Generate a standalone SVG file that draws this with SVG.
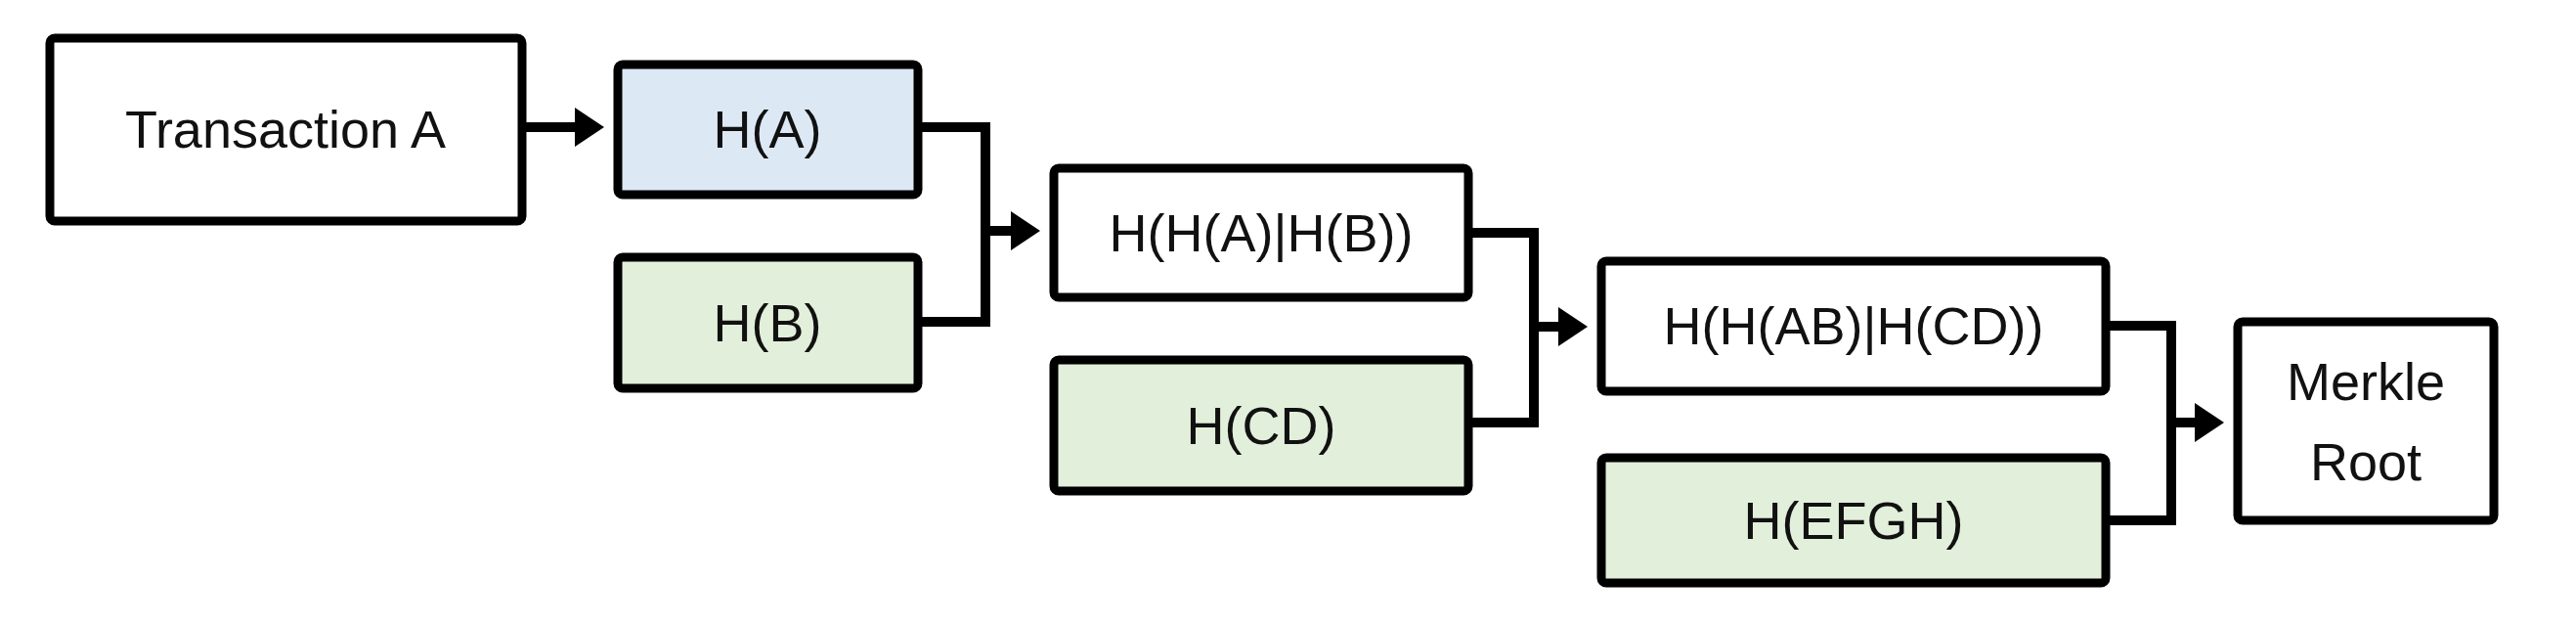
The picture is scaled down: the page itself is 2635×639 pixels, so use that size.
<svg xmlns="http://www.w3.org/2000/svg" width="2635" height="639" viewBox="0 0 2635 639">
<style>
rect{stroke:#000;stroke-width:9}
.w{fill:#fff}.b{fill:#dde8f5}.g{fill:#e2efda}
text{font-family:"Liberation Sans",Arial,sans-serif;font-size:54px;fill:#111;text-anchor:middle;dominant-baseline:central}
.c{fill:none;stroke:#000;stroke-width:10}
</style>
<defs><marker id="ar" markerWidth="4" markerHeight="4" refX="2.2" refY="2" orient="auto" markerUnits="strokeWidth"><path d="M0,0L3,2L0,4z" fill="#000"/></marker></defs>
<rect width="2635" height="639" fill="#fff" style="stroke:none"/>
<g id="connectors">
<path class="c" d="M534,130H610" marker-end="url(#ar)"/>
<path class="c" d="M939,130H1008V329H939M1008,236H1056" marker-end="url(#ar)"/>
<path class="c" d="M1502,238H1569V432H1502M1569,334H1616" marker-end="url(#ar)"/>
<path class="c" d="M2154,333H2221V532H2154M2221,432H2267" marker-end="url(#ar)"/>
</g>
<g id="txA"><rect class="w" x="51" y="39" width="483" height="187" rx="5"/><text x="292" y="132">Transaction A</text></g>
<g id="hA"><rect class="b" x="632" y="66" width="307" height="133" rx="5"/><text x="785" y="132">H(A)</text></g>
<g id="hB"><rect class="g" x="632" y="263" width="307" height="134" rx="5"/><text x="785" y="330">H(B)</text></g>
<g id="hAB"><rect class="w" x="1078" y="172" width="424" height="132" rx="5"/><text x="1290" y="238">H(H(A)|H(B))</text></g>
<g id="hCD"><rect class="g" x="1078" y="368" width="424" height="134" rx="5"/><text x="1290" y="435">H(CD)</text></g>
<g id="hABCD"><rect class="w" x="1638" y="267" width="516" height="133" rx="5"/><text x="1896" y="333">H(H(AB)|H(CD))</text></g>
<g id="hEFGH"><rect class="g" x="1638" y="468" width="516" height="128" rx="5"/><text x="1896" y="532">H(EFGH)</text></g>
<g id="root"><rect class="w" x="2289" y="329" width="262" height="203" rx="5"/><text x="2420" y="390">Merkle</text><text x="2420" y="472">Root</text></g>
</svg>
